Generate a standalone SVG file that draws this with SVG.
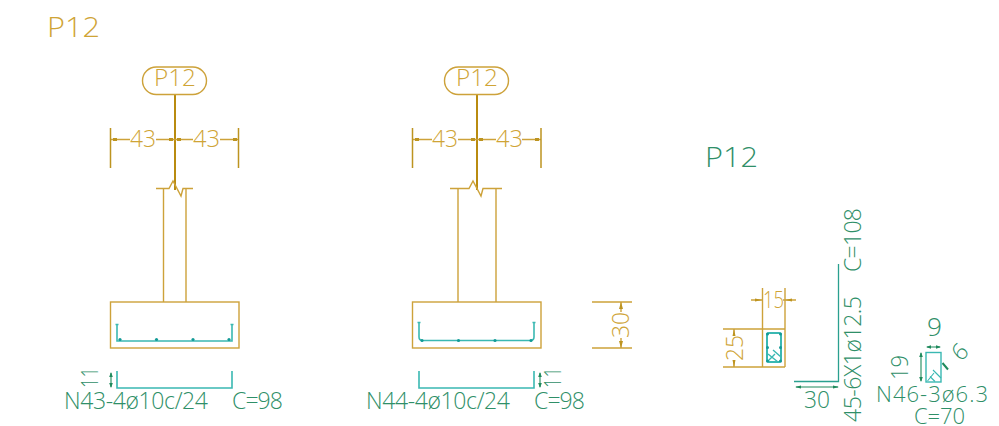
<svg xmlns="http://www.w3.org/2000/svg" width="999" height="426" viewBox="0 0 999 426">
<style>
text{font-family:"Open Sans","Liberation Sans",sans-serif;font-weight:300}
.g{fill:#cfa436;font-size:23px}
.t{fill:#2f8f68;font-size:23px}
.l{fill:none;stroke:#cda23a;stroke-width:1.4}
.d{fill:none;stroke:#bd9420;stroke-width:1.5}
.k{fill:none;stroke:#b98b10;stroke-width:2}
.r{fill:none;stroke:#3ab8b2;stroke-width:1.6}
.a{fill:none;stroke:#1f8a5c;stroke-width:1.1}
.ta{fill:#1f8a5c;stroke:none}
.ga{fill:#bd9420;stroke:none}
.dot{fill:#129a96;stroke:none}
</style>
<rect width="999" height="426" fill="#fff"/>
<g id="connectors">
<path class="k" d="M175 94V190M477 94V190"/>
<path class="l" d="M110 139.500H130M156 139.500H193M220 139.500H239"/>
<path class="l" d="M412 139.500H432M458 139.500H496M522 139.500H541"/>
<path class="d" d="M110.500 128V168M238.500 128V168M412.500 128V168M541 128V168"/>
<path class="ga" d="M113 138h4v3h-4zM169 138h4v3h-4zM177 138h4v3h-4zM233 138h4v3h-4zM415 138h4v3h-4zM471 138h4v3h-4zM479 138h4v3h-4zM535 138h4v3h-4z"/>
<path class="l" d="M592 302H632M592 348H632M621 302V312M621 338V348"/>
<path class="ga" d="M621 302l-2 7h4zM621 348l-2-7h4z"/>
<path class="l" d="M751 300H763M783 300H796M762.500 288V367M785 288V367M723 329H785M723 367H785M734 329V335M734 361V367"/>
<path class="ga" d="M762 300l-7-1.500v3zM785 300l7-1.500v3zM734 329l-1.500 7h3zM734 367l-1.500-7h3z"/>
<path class="a" d="M111 373V387M796 387H838M927 347H940M921 353V381"/>
<path class="ta" d="M111 372l-1.800 5h3.600zM111 388l-1.800-5h3.600zM540 372l-1.800 5h3.600zM540 388l-1.800-5h3.600zM795 387l6-1.600v3.200zM839 387l-6-1.600v3.200zM926 347l5-1.800v3.600zM941 347l-5-1.800v3.600zM921 352l-1.800 5h3.600zM921 382l-1.800-5h3.600z"/>
<path class="a" d="M540 373V387"/>
<path d="M942.500 363L948 369.500" stroke="#1f8a5c" stroke-width="2" fill="none"/>
</g>
<text id="title-left" class="g" style="font-size:27px" x="47" y="37" textLength="53" lengthAdjust="spacingAndGlyphs">P12</text>
<g id="tag-1">
<rect class="l" x="142.500" y="67" width="64" height="27.500" rx="13.700"/>
<text class="g" x="154" y="85.500" textLength="42" lengthAdjust="spacingAndGlyphs">P12</text>
</g>
<g id="tag-2">
<rect class="l" x="444.500" y="67" width="64" height="27.500" rx="13.700"/>
<text class="g" x="456" y="85.500" textLength="42" lengthAdjust="spacingAndGlyphs">P12</text>
</g>
<g id="dim-labels">
<text class="g" x="130" y="147" textLength="26" lengthAdjust="spacingAndGlyphs">43</text>
<text class="g" x="193" y="147" textLength="27" lengthAdjust="spacingAndGlyphs">43</text>
<text class="g" x="432" y="147" textLength="26" lengthAdjust="spacingAndGlyphs">43</text>
<text class="g" x="496" y="147" textLength="27" lengthAdjust="spacingAndGlyphs">43</text>
<text class="g" transform="translate(629 338) rotate(-90)" textLength="26" lengthAdjust="spacingAndGlyphs">30</text>
<text class="g" x="763" y="308" textLength="21" lengthAdjust="spacingAndGlyphs">15</text>
<text class="g" transform="translate(743 361) rotate(-90)" textLength="26" lengthAdjust="spacingAndGlyphs">25</text>
</g>
<g id="beam-1">
<path class="l" d="M156 188.500H169L173 181L181 196L183 188.500H193M163.500 189V302M186 189V302"/>
<rect class="l" x="110.500" y="302" width="128.500" height="46"/>
<path class="r" d="M117 325V341H232V325"/>
<path class="r" d="M115.500 324.500H118.500M230.500 324.500H233.500"/>
<g class="dot"><circle cx="120" cy="339.500" r="1.600"/><circle cx="156.500" cy="339.500" r="1.600"/><circle cx="193" cy="339.500" r="1.600"/><circle cx="229" cy="339.500" r="1.600"/></g>
</g>
<g id="beam-2">
<path class="l" d="M450 188.500H469L473 181L481 196L483 188.500H502M458 189V302M496 189V302"/>
<rect class="l" x="412.500" y="302" width="128.500" height="46"/>
<path class="r" d="M419 323V337Q419 340.500 423 340.500H530Q534 340.500 534 337V323"/>
<path class="r" d="M417.500 322.500H420.500M532.500 322.500H535.500"/>
<g class="dot"><circle cx="422" cy="340.500" r="1.600"/><circle cx="458.500" cy="340.500" r="1.600"/><circle cx="495" cy="340.500" r="1.600"/><circle cx="531" cy="340.500" r="1.600"/></g>
</g>
<g id="bar-n43">
<path class="r" d="M117 371V388H232V371"/>
<text class="t" transform="translate(98 388) rotate(-90)" textLength="21" lengthAdjust="spacingAndGlyphs">11</text>
<text class="t" x="64" y="409" textLength="144" lengthAdjust="spacing">N43-4ø10c/24</text>
<text class="t" x="232" y="409" textLength="51" lengthAdjust="spacing">C=98</text>
</g>
<g id="bar-n44">
<path class="r" d="M419 371V388H534V371"/>
<text class="t" transform="translate(561 388) rotate(-90)" textLength="21" lengthAdjust="spacingAndGlyphs">11</text>
<text class="t" x="366" y="409" textLength="144" lengthAdjust="spacing">N44-4ø10c/24</text>
<text class="t" x="534" y="409" textLength="51" lengthAdjust="spacing">C=98</text>
</g>
<text id="title-right" class="t" style="font-size:27px" x="705" y="167" textLength="53" lengthAdjust="spacingAndGlyphs">P12</text>
<g id="section">
<rect x="767" y="333" width="14" height="29" rx="2" fill="none" stroke="#3ab8b2" stroke-width="2"/>
<path d="M768 354L778 362M773 350L781 357M768 361L775 354" fill="none" stroke="#3ab8b2" stroke-width="1.400"/>
<g class="dot"><circle cx="767.500" cy="334" r="1.500"/><circle cx="780.500" cy="334" r="1.500"/><circle cx="767.500" cy="347.500" r="1.500"/><circle cx="780.500" cy="347.500" r="1.500"/><circle cx="767.500" cy="361" r="1.500"/><circle cx="780.500" cy="361" r="1.500"/></g>
</g>
<g id="bar-n45">
<path d="M838.500 264V381.500H794" fill="none" stroke="#2aa08f" stroke-width="1.300"/>
<text class="t" x="804" y="408" textLength="26" lengthAdjust="spacingAndGlyphs">30</text>
<text class="t" transform="translate(861 422) rotate(-90)" textLength="126" lengthAdjust="spacing">45-6X1ø12.5</text>
<text class="t" transform="translate(861 272) rotate(-90)" textLength="64" lengthAdjust="spacing">C=108</text>
</g>
<g id="bar-n46">
<rect x="926" y="352.500" width="15" height="29.500" fill="none" stroke="#3ab8b2" stroke-width="1.400"/>
<path d="M933 370L941 378M930 376.500L935 381.500M927.500 381L934 373" fill="none" stroke="#3ab8b2" stroke-width="1.100"/>
<text class="t" transform="translate(908 380) rotate(-90)" textLength="25" lengthAdjust="spacingAndGlyphs">19</text>
<text class="t" x="927" y="336" textLength="15" lengthAdjust="spacingAndGlyphs" style="font-size:25px">9</text>
<text class="t" transform="translate(953.800 345.800) rotate(135)" text-anchor="middle">9</text>
<text class="t" style="font-size:22px" x="876" y="402" textLength="112" lengthAdjust="spacing">N46-3ø6.3</text>
<text class="t" style="font-size:22px" x="914" y="424" textLength="51" lengthAdjust="spacing">C=70</text>
</g>
</svg>
